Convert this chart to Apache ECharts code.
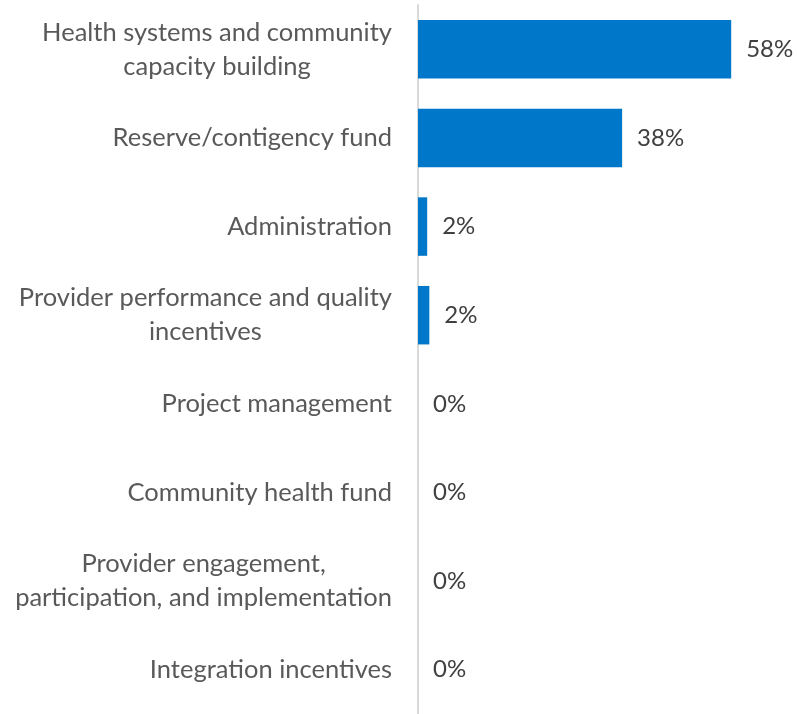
<!DOCTYPE html>
<html>
<head>
<meta charset="utf-8">
<script src="https://cdn.jsdelivr.net/npm/echarts@6/dist/echarts.min.js"></script>
<style>html,body{margin:0;padding:0;background:#fff;}#c{width:797px;height:714px;}</style>
</head>
<body>
<div id="c"></div>
<script>
const categories = [
  "Health systems and community\ncapacity building",
  "Reserve/contigency fund",
  "Administration",
  "Provider performance and quality\nincentives",
  "Project management",
  "Community health fund",
  "Provider engagement,\nparticipation, and implementation",
  "Integration incentives"
];
const values = [58, 37.8, 1.7, 2.1, 0, 0, 0, 0];

const chart = echarts.init(document.getElementById('c'));
const FONT = 'Lato';
chart.setOption({
  animation: false,
  grid: { left: 418, right: 1, top: 5, bottom: 0, containLabel: false },
  xAxis: { type: 'value', min: 0, max: 70, show: false },
  yAxis: {
    type: 'category', inverse: true, data: categories,
    axisLine: { show: true, lineStyle: { color: '#d9d9d9', width: 2 } },
    axisTick: { show: false },
    axisLabel: {
      margin: 26, align: 'right',
      formatter: function (v) {
        return v.split('\n').map(function (l) { return '{c|' + l + '}'; }).join('\n');
      },
      rich: { c: { align: 'center', fontFamily: FONT, fontSize: 25.5, color: '#595959', lineHeight: 34 } }
    }
  },
  series: [{
    type: 'bar', data: values, barWidth: '66%',
    itemStyle: { color: '#0077c8' },
    label: {
      show: true, position: 'right', distance: 15,
      formatter: function (p) { return Math.round(p.value) + '%'; },
      fontFamily: FONT, fontSize: 24, color: '#404040'
    }
  }]
});
</script>
</body>
</html>
